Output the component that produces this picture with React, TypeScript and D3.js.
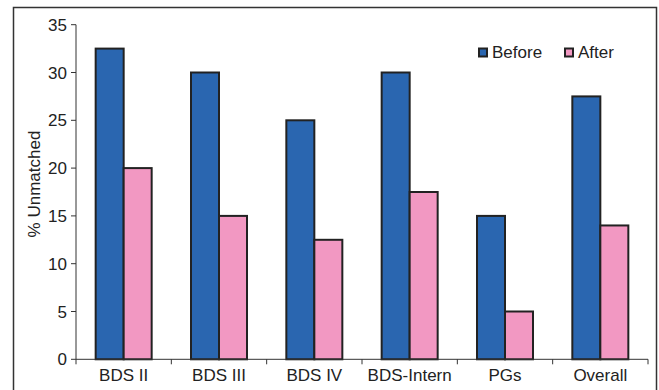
import React from "react";
import * as d3 from "d3";

const categories = ["BDS II", "BDS III", "BDS IV", "BDS-Intern", "PGs", "Overall"];
const beforeValues = [32.5, 30, 25, 30, 15, 27.5];
const afterValues = [20, 15, 12.5, 17.5, 5, 14];
const seriesNames = ["Before", "After"];
const yTicks = [0, 5, 10, 15, 20, 25, 30, 35];

const colors = ["#2a66b0", "#f298c2"];
const W = 659;
const H = 390;
const left = 76;
const right = 648;
const top = 24.7;
const bottom = 359.3;
const font = "'Liberation Sans', Arial, sans-serif";
const fs = 17;

export default function App() {
  const x = d3.scaleBand<string>().domain(categories).range([left, right]).paddingInner(0).paddingOuter(0);
  const y = d3.scaleLinear().domain([0, 35]).range([bottom, top]);
  const barW = 28;
  const series = [beforeValues, afterValues];
  const boundaries = [...categories.map((c) => x(c) as number), right];

  return (
    <svg width={W} height={H} style={{ position: "absolute", left: 0, top: 0 }}>
      <rect x={0} y={0} width={W} height={H} fill="#fff" />
      <rect x={13.5} y={7.5} width={643} height={390} fill="none" stroke="#333" strokeWidth={1.5} />
      {/* bars */}
      {categories.map((c, i) => {
        const cx = (x(c) as number) + x.bandwidth() / 2;
        return series.map((vals, s) => (
          <rect
            key={c + s}
            x={cx - barW + s * barW}
            y={y(vals[i])}
            width={barW}
            height={y(0) - y(vals[i])}
            fill={colors[s]}
            stroke="#222"
            strokeWidth={2}
          />
        ));
      })}
      {/* y axis */}
      <line x1={left} x2={left} y1={top} y2={bottom} stroke="#333" strokeWidth={1} />
      {yTicks.map((t) => (
        <g key={t}>
          <line x1={left - 5} x2={left} y1={y(t)} y2={y(t)} stroke="#333" strokeWidth={1} />
          <text x={left - 9} y={y(t)} dy="0.36em" textAnchor="end" fontFamily={font} fontSize={fs} fill="#222">
            {t}
          </text>
        </g>
      ))}
      {/* x axis */}
      <line x1={left} x2={right} y1={bottom} y2={bottom} stroke="#333" strokeWidth={1} />
      {boundaries.map((b, i) => (
        <line key={i} x1={b} x2={b} y1={bottom} y2={bottom + 5} stroke="#333" strokeWidth={1} />
      ))}
      {categories.map((c) => (
        <text
          key={c}
          x={(x(c) as number) + x.bandwidth() / 2}
          y={381}
          textAnchor="middle"
          fontFamily={font}
          fontSize={fs}
          fill="#222"
        >
          {c}
        </text>
      ))}
      <text
        transform={`translate(40,184) rotate(-90)`}
        textAnchor="middle"
        fontFamily={font}
        fontSize={fs}
        fill="#222"
      >
        % Unmatched
      </text>
      {/* legend */}
      {seriesNames.map((n, i) => {
        const lx = [479, 565][i];
        return (
          <g key={n}>
            <rect x={lx} y={48.5} width={8} height={8} fill={colors[i]} stroke="#222" strokeWidth={2} />
            <text x={lx + 13} y={58} fontFamily={font} fontSize={fs} fill="#222">
              {n}
            </text>
          </g>
        );
      })}
    </svg>
  );
}
